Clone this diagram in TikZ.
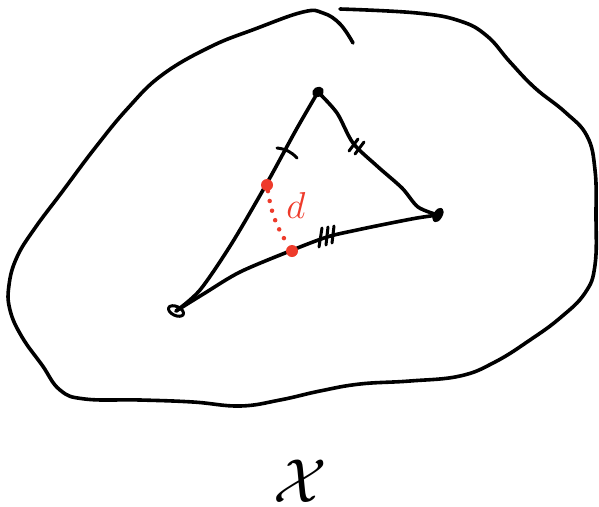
\documentclass[tikz,border=0pt]{standalone}
\usetikzlibrary{shapes.geometric}

\begin{document}
\begin{tikzpicture}[
    x=1pt, y=-1pt,
    line cap=round, line join=round,
    pen/.style={draw=black, line width=3.6pt},
    vertexmark/.style={ellipse, draw=black, line width=3pt, fill=black, minimum width=7pt, minimum height=5pt, inner sep=0pt},
    reddot/.style={circle, fill=myred, minimum size=12pt, inner sep=0pt},
    tick/.style={draw=black, line width=3pt}
]

% Define custom colors to match the image closely
\definecolor{myred}{HTML}{EE3B2B}

\useasboundingbox (0,0) rectangle (599,506);

% ==================== SPACE OUTLINE ====================
\draw[pen] plot[smooth, tension=0.7] coordinates {
    (340,9) (417,13) (460,21) (487,36) (510,62) (535,88) (565,112)
    (587,136) (595,170) (596,215) (595,265) (585,293) (560,318) (530,340)
    (495,362) (460,376) (410,381) (360,384) (320,391) (280,400) (240,406)
    (193,402) (140,400) (85,399) (60,390) (42,365) (22,337) (10,310)
    (9,285) (17,257) (35,228) (62,192) (95,148) (128,108) (162,75) (210,47)
    (255,29) (303,12) (323,13) (340,24) (353,43)};

% ==================== TRIANGLE ====================
    % Vertices
    \coordinate (top) at (318,92);
    \coordinate (right) at (438,215);
    \coordinate (left) at (176,311);

    % Edges
    \draw[pen] plot[smooth] coordinates {(top) (296,130) (267,183) (232,243) (200,290) (left)};
    \draw[pen] plot[smooth] coordinates {(top) (337,113) (353,143) (377,166) (402,188) (418,207) (right)};
    \draw[pen] plot[smooth] coordinates {(left) (205,293) (240,272) (290,251) (327,237) (357,230) (386,224) (417,218) (right)};

    % Vertex marks
    \node[vertexmark, rotate=30, minimum width=9pt, minimum height=7pt] (topmark) at (top) {};
    \node[vertexmark, rotate=60, minimum width=13pt, minimum height=6pt] (rightmark) at (right) {};
    \node[vertexmark, fill=none, rotate=-25, minimum width=16pt, minimum height=9pt] (leftmark) at (left) {};

    % Tick marks
    \draw[tick] (277,148) to[bend left=20] (297,158);
    \draw[tick] (349,151) -- (358,139);
    \draw[tick] (355,154) -- (364,142);
    \draw[tick] (319,247) -- (322,228);
    \draw[tick] (326,245) -- (328,227);
    \draw[tick] (332,243) -- (334,226);

% ==================== DISTANCE ====================
    \node[reddot] (p) at (267,185) {};
    \node[reddot] (q) at (292,251) {};
    \draw[myred, line width=4.5pt, dash pattern=on 0pt off 10pt] (p) to[bend right=12] (q);
    \node[text=myred, scale=2.6] (dlabel) at (296,205) {\Large $d$};

% ==================== LABEL ====================
    \node[scale=2.5] (space) at (300,481) {\Huge $\mathcal{X}$};

\end{tikzpicture}
\end{document}
